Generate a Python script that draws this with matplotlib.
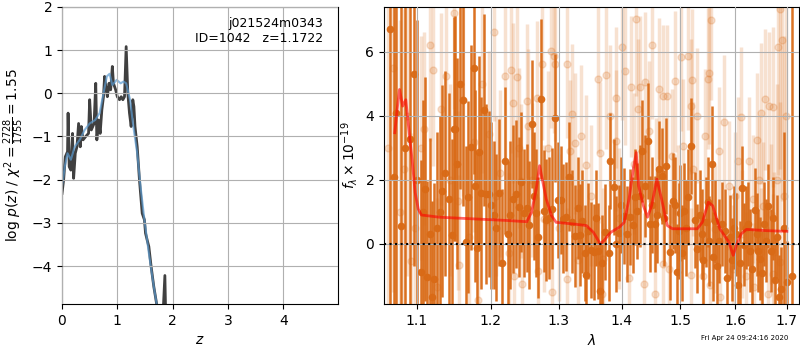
import matplotlib
matplotlib.use('Agg')
import matplotlib.pyplot as plt
import numpy as np
from matplotlib.ticker import NullLocator, FormatStrFormatter

# --- p(z) panel ---
z_pz = [0.0, 0.03, 0.06, 0.10, 0.11, 0.13, 0.16, 0.19, 0.21, 0.24, 0.27, 0.30, 0.33, 0.35,
        0.38, 0.43, 0.48, 0.50, 0.53, 0.58, 0.61, 0.63, 0.66, 0.69, 0.72, 0.75, 0.77, 0.80,
        0.82, 0.85, 0.88, 0.91, 0.93, 0.97, 1.00, 1.04, 1.07, 1.10, 1.13, 1.16, 1.19, 1.22,
        1.25, 1.28, 1.30, 1.32, 1.36, 1.40, 1.45, 1.49, 1.51, 1.54, 1.57, 1.61, 1.66, 1.71,
        1.76, 1.82, 1.86, 1.88, 1.95, 2.10]
logp = [-2.32, -2.0, -1.47, -1.35, -0.46, -1.70, -1.78, -0.93, -1.97, -1.39, -1.24, -0.70,
        -1.24, -0.77, -1.08, -1.00, -0.93, -0.15, -0.85, -0.70, 0.23, -1.08, -0.62, -0.93,
        -0.39, -0.08, 0.39, 0.08, -0.08, 0.23, 0.08, 0.62, 0.23, 0.08, -0.08, -0.15, -0.08,
        -0.15, -0.08, 1.08, 0.0, -0.46, -0.77, -0.15, -0.31, -0.77, -1.24, -2.0, -2.78,
        -2.93, -3.24, -3.40, -3.55, -4.0, -4.48, -4.87, -5.3, -5.3, -4.22, -5.5, -6.0, -7.0]

z_smooth = [0.0, 0.05, 0.10, 0.16, 0.23, 0.32, 0.41, 0.50, 0.60, 0.68, 0.75, 0.81, 0.86,
            0.91, 0.99, 1.06, 1.11, 1.16, 1.23, 1.29, 1.36, 1.42, 1.49, 1.57, 1.66, 1.72, 1.85]
logp_smooth = [-2.16, -1.70, -1.39, -1.54, -1.24, -1.08, -0.85, -0.70, -0.62, -0.46, 0.0,
               0.39, 0.45, 0.19, 0.31, 0.23, 0.27, 0.23, -0.15, -0.77, -1.39, -2.16, -2.93,
               -3.70, -4.48, -4.94, -6.0]

# --- spectrum panel ---
lam_dark = [1.066, 1.071, 1.074, 1.080, 1.085, 1.092, 1.096, 1.105, 1.111, 1.114, 1.120, 1.122,
            1.127, 1.133, 1.142, 1.146, 1.149, 1.151, 1.157, 1.161, 1.165, 1.168, 1.172, 1.176,
            1.181, 1.184, 1.187, 1.191, 1.194, 1.198, 1.204, 1.216, 1.220, 1.228, 1.232, 1.236,
            1.241, 1.244, 1.248, 1.253, 1.260, 1.266, 1.273, 1.278, 1.281, 1.285, 1.294, 1.299,
            1.303, 1.306, 1.311, 1.316, 1.321, 1.325, 1.329, 1.333, 1.340, 1.343, 1.350, 1.355,
            1.362, 1.364, 1.373, 1.379, 1.381, 1.387, 1.395, 1.403, 1.414, 1.422, 1.426, 1.434,
            1.439, 1.443, 1.448, 1.455, 1.463, 1.468, 1.475, 1.481, 1.487, 1.491, 1.494, 1.500,
            1.507, 1.514, 1.519, 1.525, 1.530, 1.538, 1.545, 1.552, 1.556, 1.559, 1.570, 1.576,
            1.585, 1.590, 1.598, 1.605, 1.612, 1.616, 1.624, 1.627, 1.638, 1.644, 1.648, 1.655,
            1.663, 1.668, 1.676, 1.680, 1.685, 1.689, 1.695, 1.710,
            1.100, 1.108, 1.117, 1.130, 1.137, 1.154, 1.178, 1.200, 1.208, 1.212, 1.224, 1.256,
            1.263, 1.269, 1.289, 1.336, 1.346, 1.358, 1.368, 1.391, 1.399, 1.408, 1.418, 1.430,
            1.451, 1.459, 1.471, 1.497, 1.503, 1.510, 1.534, 1.541, 1.549, 1.563, 1.566, 1.580,
            1.594, 1.601, 1.608, 1.620, 1.632, 1.641, 1.651, 1.659, 1.672, 1.700]
flux_dark = [6.7, 2.09, 4.07, 0.56, 3.0, 3.27, 5.3, -0.87, 1.71, -1.03, -1.65, -1.09,
             0.5, 1.65, 1.4, 0.28, 3.58, 3.6, 5.0, 4.48, 0.06, 1.46, 3.02, 5.48,
             -0.12, 2.87, 1.59, 4.17, 1.56, 1.56, 0.9, -0.6, 2.6, 0.9, 1.4, 1.56,
             1.15, 1.93, 0.97, 1.12, 3.74, 0.97, 4.52, 1.03, 0.75, 0.81, 3.93, 1.37,
             1.37, 0.78, 0.84, 2.09, 0.69, 0.25, 1.12, 0.28, -0.28, -0.97, -0.2, -0.25,
             -0.22, -1.46, 0.37, -0.28, 2.59, 1.78, 0.34, 0.87, 0.84, 1.46, 1.03, 2.9,
             1.81, 3.21, 0.62, 0.62, 2.34, 2.12, 2.43, -0.25, 1.34, 1.22, -0.87, 0.97,
             1.03, 1.46, 3.05, 0.75, -0.15, 0.3, 0.69, 0.09, 2.49, -0.4, 0.09, 0.62,
             -1.06, 0.22, 0.5, -1.28, 1.74, -0.03, 0.62, -0.22, 1.06, -0.22, -0.47, 0.62,
             1.18, -0.22, -1.12, 0.22, -1.65, -1.4, 0.5, -1.0,
             2.0, 1.0, 0.3, 1.0, 2.2, 2.5, 1.8, 1.2, 0.5, 1.6, 0.3, 0.6,
             1.5, 0.2, 1.1, 0.7, 0.4, 0.8, -0.6, 0.0, 1.2, 0.3, 0.6, 1.5,
             1.2, 0.9, 0.8, 0.4, -0.3, 0.5, 0.9, -0.5, 1.3, 0.7, -0.7, 0.4,
             -0.5, 0.3, -0.6, 0.5, -0.8, 0.3, -0.9, 0.1, 0.8, -1.2]
err_dark = [12, 12, 12, 10, 10, 8, 6, 3.5, 3.5, 3.0, 3.0, 3.0,
            3.0, 3.3, 3.3, 3.0, 3.5, 3.5, 3.3, 3.3, 3.0, 3.0, 3.2, 3.3,
            3.0, 3.0, 3.0, 3.0, 2.8, 2.6, 2.3, 2.3, 2.3, 2.3, 2.3, 2.3,
            2.2, 2.2, 2.0, 2.0, 2.0, 2.0, 2.5, 1.9, 1.9, 1.9, 2.0, 1.8,
            1.7, 1.7, 1.7, 1.7, 1.6, 1.6, 1.6, 1.6, 1.5, 1.5, 1.5, 1.5,
            1.5, 1.5, 1.5, 1.5, 1.5, 1.5, 1.5, 1.5, 1.5, 1.5, 1.5, 1.6,
            1.6, 1.8, 1.5, 1.5, 1.5, 1.5, 1.5, 1.5, 1.5, 1.5, 1.5, 1.5,
            1.5, 1.5, 1.5, 1.5, 1.4, 1.4, 1.4, 1.4, 1.8, 1.4, 1.3, 1.3,
            1.3, 1.3, 1.3, 1.3, 1.3, 1.3, 1.3, 1.3, 1.3, 1.3, 1.3, 1.3,
            1.3, 1.3, 1.3, 1.3, 1.3, 1.3, 3.0, 12,
            5.0, 3.5, 3.0, 3.0, 3.2, 3.3, 3.0, 2.6, 2.3, 2.3, 2.3, 2.0,
            2.0, 1.9, 1.9, 1.6, 1.5, 1.5, 1.5, 1.5, 1.5, 1.5, 1.5, 1.6,
            1.5, 1.5, 1.5, 1.5, 1.5, 1.5, 1.4, 1.4, 1.4, 1.3, 1.3, 1.3,
            1.3, 1.3, 1.3, 1.3, 1.3, 1.3, 1.3, 1.3, 1.3, 1.3]

lam_light = [1.070, 1.078, 1.084, 1.093, 1.105, 1.117, 1.121, 1.126, 1.139, 1.149, 1.155, 1.156,
             1.177, 1.182, 1.197, 1.204, 1.207, 1.220, 1.229, 1.232, 1.234, 1.237, 1.244, 1.245,
             1.253, 1.254, 1.267, 1.268, 1.275, 1.278, 1.288, 1.290, 1.293, 1.295, 1.312, 1.313,
             1.318, 1.321, 1.325, 1.334, 1.343, 1.362, 1.365, 1.368, 1.370, 1.375, 1.390, 1.391,
             1.401, 1.405, 1.412, 1.415, 1.424, 1.427, 1.430, 1.437, 1.438, 1.446, 1.456, 1.457,
             1.463, 1.469, 1.470, 1.477, 1.486, 1.491, 1.501, 1.504, 1.513, 1.518, 1.519, 1.521,
             1.523, 1.544, 1.549, 1.552, 1.553, 1.555, 1.563, 1.569, 1.571, 1.588, 1.600, 1.611,
             1.613, 1.625, 1.634, 1.636, 1.641, 1.649, 1.650, 1.653, 1.657, 1.663, 1.665, 1.668,
             1.672, 1.673, 1.674, 1.683, 1.686, 1.687, 1.690, 1.698,
             1.063, 1.088, 1.098, 1.110, 1.132, 1.144, 1.162, 1.170, 1.188, 1.213, 1.226, 1.240,
             1.260, 1.283, 1.300, 1.330, 1.350, 1.380, 1.395, 1.420, 1.450, 1.480, 1.495, 1.530,
             1.540, 1.578, 1.595, 1.605, 1.620, 1.645, 1.680, 1.694]
flux_light = [5.5, 1.0, 2.34, -0.54, 2.98, 6.2, 5.43, -1.36, 5.23, 7.2, 1.35, -0.66,
              3.18, -1.77, 3.43, 6.63, 1.5, 5.23, 5.43, 4.39, -1.0, 5.2, 1.97, -1.25,
              4.45, 3.67, 4.55, -0.85, 5.63, 0.78, 6.01, -1.5, 5.87, 5.6, 5.6, -1.09,
              2.91, 4.05, 3.14, 3.37, 2.45, 5.14, 2.84, -1.56, -0.47, 5.27, 3.22, 4.56,
              6.16, 5.39, -1.07, 4.91, 7.03, 4.2, 4.9, -1.25, 5.05, 3.52, -1.56, 1.82,
              4.85, -0.63, 4.62, 4.63, 2.75, 5.07, 5.82, 3.06, 5.85, -0.97, 4.29, 5.13,
              2.34, 3.37, 5.16, 5.33, -1.3, 6.98, 0.47, 2.91, -1.66, 1.82, 1.5, 3.95,
              0.31, 2.6, 1.4, -1.36, 3.25, 4.07, -0.25, 1.19, 4.52, -1.56, 4.31, 0.93,
              4.28, -0.93, -0.26, 6.16, 7.34, -0.57, 6.35, 4.0,
              3.0, 4.0, 0.5, 3.6, 4.2, 2.0, 4.5, 0.2, 5.0, 2.2, -0.3, 3.0,
              2.0, 3.0, 0.5, -0.5, 1.5, 4.0, 0.8, 2.5, 6.2, -0.8, 1.0, 4.0,
              -1.0, 3.8, -0.8, 2.6, -1.0, 2.0, 2.0, 1.5]
err_light = [7, 6, 5, 4, 3.5, 3.0, 3.0, 2.8, 3.0, 3.0, 2.8, 2.8,
             2.8, 2.6, 2.6, 2.8, 2.5, 2.6, 2.6, 2.5, 2.4, 2.5, 2.4, 2.4,
             2.4, 2.4, 2.4, 2.3, 2.4, 2.3, 2.4, 2.3, 2.4, 2.4, 2.3, 2.2,
             2.2, 2.2, 2.2, 2.2, 2.2, 2.3, 2.2, 2.2, 2.2, 2.3, 2.2, 2.2,
             2.3, 2.3, 2.2, 2.2, 2.4, 2.2, 2.2, 2.2, 2.2, 2.2, 2.2, 2.1,
             2.2, 2.1, 2.2, 2.2, 2.1, 2.2, 2.3, 2.1, 2.3, 2.1, 2.1, 2.2,
             2.1, 2.1, 2.2, 2.2, 2.1, 2.5, 2.0, 2.0, 2.0, 2.0, 2.0, 2.2,
             2.0, 2.0, 2.0, 2.0, 2.1, 2.2, 2.0, 2.0, 2.2, 2.1, 2.3, 2.2,
             2.5, 2.5, 2.5, 4.0, 5.0, 5.0, 5.0, 5.0,
             8.0, 5.0, 3.5, 3.0, 3.0, 3.0, 3.0, 2.8, 2.8, 2.6, 2.5, 2.5,
             2.4, 2.4, 2.3, 2.2, 2.2, 2.2, 2.2, 2.2, 2.3, 2.1, 2.1, 2.1,
             2.1, 2.1, 2.0, 2.0, 2.0, 2.0, 3.0, 5.0]

lam_model = [1.072, 1.075, 1.078, 1.082, 1.086, 1.089, 1.094, 1.098, 1.102, 1.106, 1.130, 1.175,
             1.222, 1.252, 1.259, 1.266, 1.271, 1.275, 1.281, 1.289, 1.296, 1.322, 1.343, 1.354,
             1.365, 1.371, 1.382, 1.396, 1.404, 1.412, 1.420, 1.424, 1.428, 1.436, 1.443, 1.450,
             1.459, 1.467, 1.477, 1.486, 1.530, 1.539, 1.550, 1.558, 1.571, 1.588, 1.596, 1.602,
             1.611, 1.621, 1.661, 1.700]
flux_model = [3.47, 4.2, 4.82, 4.3, 4.5, 3.78, 2.64, 1.6, 1.09, 0.9, 0.83, 0.78,
              0.73, 0.69, 0.98, 1.71, 2.44, 2.02, 1.40, 0.88, 0.67, 0.62, 0.57, 0.36,
              0.0, 0.10, 0.36, 0.52, 0.67, 1.40, 2.44, 2.85, 1.81, 1.19, 0.83, 1.19,
              2.02, 1.40, 0.57, 0.47, 0.47, 0.67, 1.30, 1.19, 0.47, 0.05, -0.36, -0.05,
              0.31, 0.45, 0.41, 0.39]

lam_ticks = [1.1, 1.2, 1.3, 1.4, 1.5, 1.6, 1.7]

orange = '#d96a16'

fig = plt.figure(figsize=(8, 3.5), dpi=100)
ax1 = fig.add_axes([0.0775, 0.1314, 0.345, 0.849])
ax2 = fig.add_axes([0.48, 0.1314, 0.519, 0.849])

ax1.plot(z_pz, logp, color='k', alpha=0.75, lw=2)
ax1.plot(z_smooth, logp_smooth, color='#5a9ad0', alpha=0.7, lw=1.5)
ax1.set_xlim(0, 4.99)
ax1.set_ylim(-4.88, 2)
ax1.set_xticks([0, 1, 2, 3, 4])
ax1.set_yticks([-4, -3, -2, -1, 0, 1, 2])
ax1.set_xlabel('$z$')
ax1.set_ylabel(r'log $p(z)$ / $\chi^2=\frac{2728}{1755}=1.55$')
ax1.grid(True)
ax1.set_axisbelow(False)
ax1.text(0.945, 0.965, 'j021524m0343\nID=1042   z=1.1722', transform=ax1.transAxes,
         ha='right', va='top', fontsize=9)

ax2.errorbar(lam_light, flux_light, yerr=err_light, fmt='o', color=orange, alpha=0.2,
             ms=5, lw=2.5, zorder=1)
ax2.errorbar(lam_dark, flux_dark, yerr=err_dark, fmt='o', color=orange, alpha=0.95,
             ms=4.5, lw=1.8, zorder=2)
ax2.plot(lam_model, flux_model, color='red', alpha=0.6, lw=2, zorder=4)
ax2.axhline(0, color='k', ls=':', lw=1.5, zorder=5)
ax2.set_xscale('log')
ax2.set_xlim(1.0585, 1.7248)
ax2.set_ylim(-1.88, 7.4)
ax2.set_xticks(lam_ticks)
ax2.xaxis.set_minor_locator(NullLocator())
ax2.xaxis.set_major_formatter(FormatStrFormatter('%.1f'))
ax2.set_yticks([0, 2, 4, 6])
ax2.set_xlabel(r'$\lambda$')
ax2.set_ylabel(r'$f_\lambda\times10^{-19}$')
ax2.grid(True)
ax2.set_axisbelow(False)

fig.text(0.985, 0.025, 'Fri Apr 24 09:24:16 2020', ha='right', va='bottom', fontsize=5)

fig.savefig('out.png', dpi=100)
